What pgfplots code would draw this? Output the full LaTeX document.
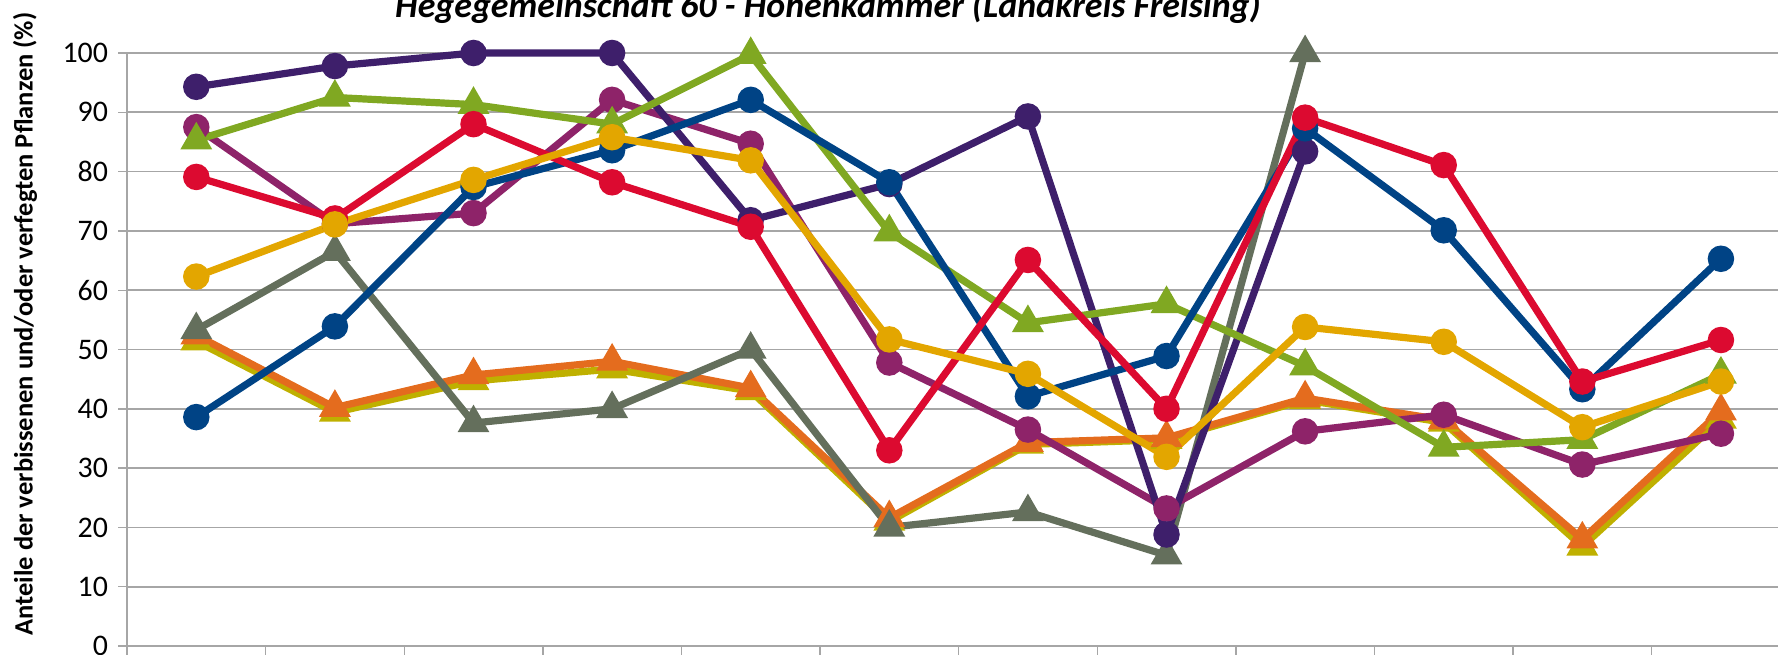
\documentclass[border=0pt]{standalone}
\usepackage{fontspec}
\setmainfont{Carlito}
\usepackage{pgfplots}
\pgfplotsset{compat=1.18}
\definecolor{gridgray}{HTML}{A6A6A6}
\definecolor{cpurple}{HTML}{3E1F6B}
\definecolor{cgreen}{HTML}{80A822}
\definecolor{cmagenta}{HTML}{8E2369}
\definecolor{cred}{HTML}{DC0A30}
\definecolor{cblue}{HTML}{004385}
\definecolor{cgold}{HTML}{E3A600}
\definecolor{cgrey}{HTML}{646F5C}
\definecolor{corange}{HTML}{E46C1E}
\definecolor{colive}{HTML}{BFB000}
\begin{document}
\begin{tikzpicture}[x=1bp,y=1bp]
\begin{axis}[
  at={(0,0)}, anchor=south west,
  scale only axis, width=831.6bp, height=296.5bp,
  xmin=-0.5, xmax=11.5, ymin=0, ymax=100,
  ytick={0,10,...,100},
  xtick={-0.5,0.5,...,11.5},
  xticklabel=\empty,
  axis x line*=bottom, axis y line*=left,
  ymajorgrids,
  grid style={color=gridgray, line width=0.9bp},
  axis line style={color=gridgray, line width=0.9bp},
  tick align=outside, major tick length=4.5bp,
  tick style={color=gridgray, line width=0.7bp},
  /pgf/number format/assume math mode=true,
  yticklabel style={font=\fontsize{15}{17}\selectfont, inner sep=0pt, xshift=-4.8bp},
  clip=false,
  every axis plot/.append style={line width=3.6bp, mark options={solid}},
]
% olive
\addplot[colive, mark=triangle*, mark size=5.6bp] coordinates {(0,51.4)(1,39.4)(2,44.7)(3,46.7)(4,43.0)(5,21.0)(6,34.0)(7,34.8)(8,41.5)(9,37.7)(10,16.8)(11,38.2)};
% orange
\addplot[corange, mark=triangle*, mark size=5.6bp] coordinates {(0,52.4)(1,40.2)(2,45.7)(3,48.0)(4,43.5)(5,21.6)(6,34.3)(7,35.1)(8,41.8)(9,38.1)(10,18.0)(11,39.6)};
% grey
\addplot[cgrey, mark=triangle*, mark size=5.6bp] coordinates {(0,53.3)(1,66.5)(2,37.6)(3,40.0)(4,50.0)(5,20.0)(6,22.6)(7,15.3)(8,100)};
% magenta
\addplot[cmagenta, mark=*, mark size=4.8bp] coordinates {(0,87.5)(1,71.2)(2,73.0)(3,92.1)(4,84.7)(5,47.8)(6,36.5)(7,23.2)(8,36.2)(9,39.0)(10,30.6)(11,35.8)};
% purple
\addplot[cpurple, mark=*, mark size=4.8bp] coordinates {(0,94.3)(1,97.8)(2,100)(3,100)(4,71.8)(5,77.9)(6,89.3)(7,18.8)(8,83.4)};
% green
\addplot[cgreen, mark=triangle*, mark size=5.6bp] coordinates {(0,85.3)(1,92.5)(2,91.3)(3,88.0)(4,99.7)(5,69.8)(6,54.5)(7,57.7)(8,47.2)(9,33.5)(10,34.8)(11,45.8)};
% blue
\addplot[cblue, mark=*, mark size=4.8bp] coordinates {(0,38.6)(1,53.9)(2,77.4)(3,83.6)(4,92.1)(5,78.2)(6,42.1)(7,48.9)(8,87.3)(9,70.1)(10,43.3)(11,65.3)};
% red
\addplot[cred, mark=*, mark size=4.8bp] coordinates {(0,79.1)(1,72.1)(2,88.0)(3,78.2)(4,70.7)(5,33.0)(6,65.1)(7,40.0)(8,89.1)(9,81.1)(10,44.6)(11,51.6)};
% gold
\addplot[cgold, mark=*, mark size=4.8bp] coordinates {(0,62.3)(1,71.1)(2,78.6)(3,85.8)(4,81.9)(5,51.7)(6,45.9)(7,31.9)(8,53.8)(9,51.3)(10,36.9)(11,44.6)};
\end{axis}
\node[anchor=base, font=\fontsize{18}{20}\selectfont\bfseries\itshape] at (350.5,314.5) {Hegegemeinschaft 60 - Hohenkammer (Landkreis Freising)};
\node[rotate=90, font=\fontsize{13.3}{15}\selectfont\bfseries] at (-51,161) {Anteile der verbissenen und/oder verfegten Pflanzen (\%)};
\pgfresetboundingbox
\useasboundingbox (-63.5,-4) rectangle (825.5,323);
\end{tikzpicture}
\end{document}
